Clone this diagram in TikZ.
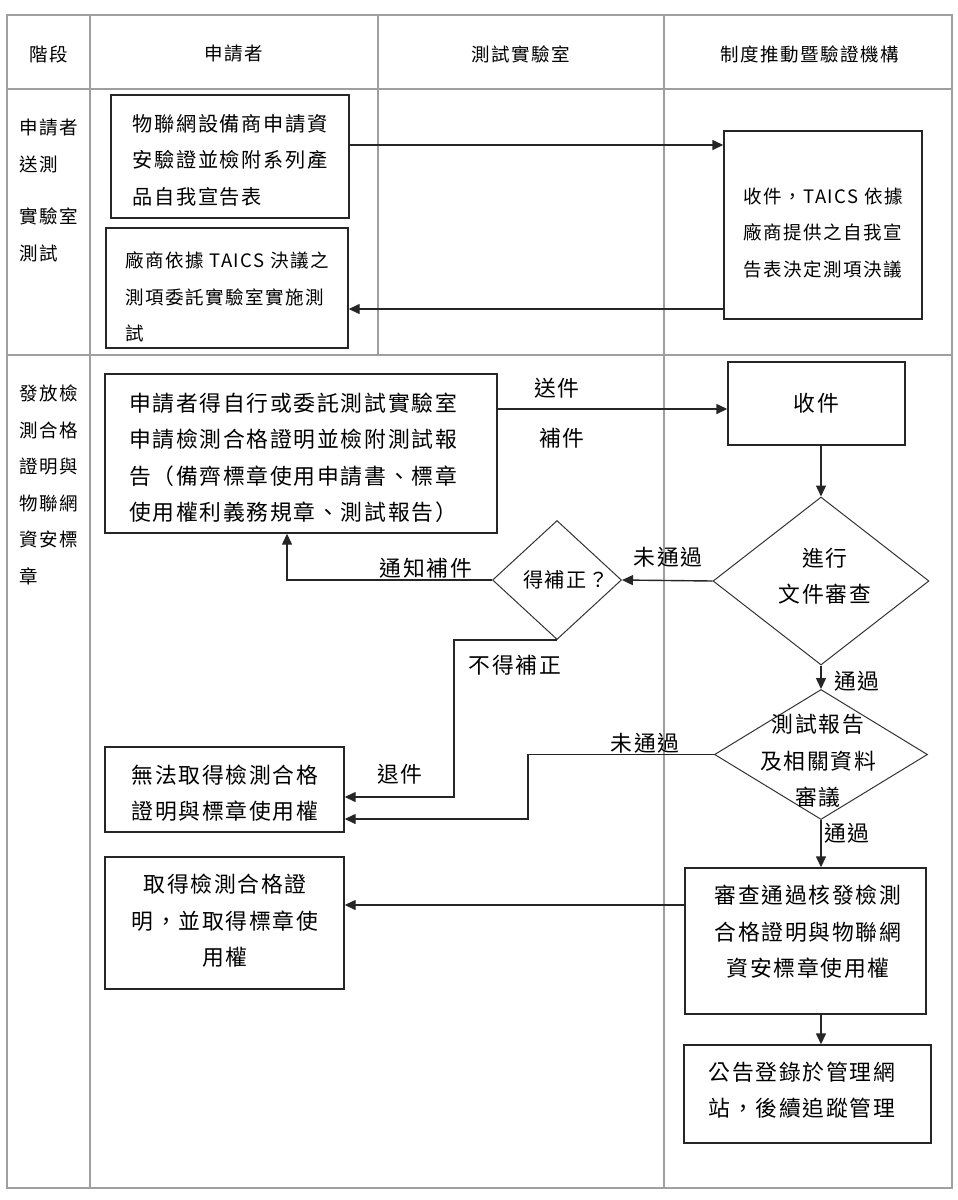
\documentclass[tikz,border=0pt]{standalone}
\usepackage{fontspec}
\newfontfamily\cjk[LetterSpace=8]{Noto Sans CJK TC}
\usetikzlibrary{arrows.meta,shapes.geometric}
\tikzset{
  tbl/.style={draw=gray!75, line width=1.3pt},
  box/.style={draw=black!85, line width=1.4pt, rectangle, inner sep=0pt},
  dia/.style={draw=black!80, line width=1pt, diamond, inner sep=0pt},
  arr/.style={draw=black!85, line width=1.4pt, -{Triangle[length=11pt,width=10pt]}},
  txtA/.style={font=\cjk\fontsize{21.8}{36.5}\selectfont, inner sep=0pt},
  txtB/.style={font=\cjk\fontsize{20.2}{36.5}\selectfont, inner sep=0pt},
  txtC/.style={font=\cjk\fontsize{18.5}{36.5}\selectfont, inner sep=0pt},
}
\begin{document}
\begin{tikzpicture}[x=1pt,y=-1pt]
\useasboundingbox[fill=white] (0,0) rectangle (958,1200);
% table
\draw[tbl] (7,15) rectangle (952,1188);
\draw[tbl] (7,89) -- (952,89);
\draw[tbl] (7,355) -- (952,355);
\draw[tbl] (90,15) -- (90,1188);
\draw[tbl] (378,15) -- (378,355);
\draw[tbl] (664,15) -- (664,1188);
% header
\node[txtC] (h1) at (49,54) {階段};
\node[txtC] (h2) at (234,54) {申請者};
\node[txtC] (h3) at (521,54) {測試實驗室};
\node[txtC] (h4) at (810,54) {制度推動暨驗證機構};
% stage column
\node[txtC, align=left, anchor=west] (s1) at (19,190.5) {申請者\\送測\\[16pt]實驗室\\測試};
\node[txtC, align=left, anchor=west] (s2) at (19,485) {發放檢\\測合格\\證明與\\物聯網\\資安標\\章};
% boxes
\node[box, minimum width=238pt, minimum height=123pt] (b1) at (230,156.5) {};
\node[box, minimum width=242pt, minimum height=120pt] (b2) at (227,288) {};
\node[box, minimum width=198pt, minimum height=188pt] (b3) at (823,225) {};
\node[box, minimum width=392pt, minimum height=159pt] (b4) at (301,453.5) {};
\node[box, minimum width=177pt, minimum height=83pt] (sj) at (816.5,403.5) {};
\node[dia, minimum width=216pt, minimum height=168pt] (d1) at (821,581) {};
\node[dia, minimum width=129pt, minimum height=119pt] (d2) at (557,580) {};
\node[dia, minimum width=213pt, minimum height=130pt] (d3) at (821,754.5) {};
\node[box, minimum width=239pt, minimum height=85pt] (bw) at (224.5,789.5) {};
\node[box, minimum width=239pt, minimum height=132pt] (bq) at (224.5,923) {};
\node[box, minimum width=241pt, minimum height=146pt] (bs) at (805.5,941) {};
\node[box, minimum width=247pt, minimum height=98pt] (bg) at (807.5,1094) {};
% box texts
\node[txtB, align=left] (t1) at (230,160) {物聯網設備商申請資\\安驗證並檢附系列產\\品自我宣告表};
\node[txtC, align=left] (t2) at (227,297) {廠商依據 TAICS 決議之\\測項委託實驗室實施測\\試};
\node[txtC, align=left] (t3) at (823,233) {收件，TAICS 依據\\廠商提供之自我宣\\告表決定測項決議};
\node[txtA, align=left] (t4) at (293,458) {申請者得自行或委託測試實驗室\\申請檢測合格證明並檢附測試報\\告（備齊標章使用申請書、標章\\使用權利義務規章、測試報告）};
\node[txtA] (t5) at (816.5,403) {收件};
\node[txtA, align=center] (t6) at (825,576) {進行\\文件審查};
\node[txtB] (t7) at (566,580) {得補正？};
\node[txtA, align=center] (t8) at (818,761) {測試報告\\及相關資料\\審議};
\node[txtA, align=left] (t9) at (225,793) {無法取得檢測合格\\證明與標章使用權};
\node[txtA, align=center] (t10) at (225,921) {取得檢測合格證\\明，並取得標章使\\用權};
\node[txtA, align=center] (t11) at (808,932) {審查通過核發檢測\\合格證明與物聯網\\資安標章使用權};
\node[txtA, align=left] (t12) at (802,1090) {公告登錄於管理網\\站，後續追蹤管理};
% helper coordinates
\coordinate (y145) at (0,145);
\coordinate (y309) at (0,309);
\coordinate (y409) at (0,409);
\coordinate (x287) at (287,0);
\coordinate (x454) at (454,0);
\coordinate (y797) at (0,797);
\coordinate (x528) at (528,0);
\coordinate (y819) at (0,819);
\coordinate (y905) at (0,905);
% connectors
\draw[arr] (b1.east |- y145) -- (b3.west |- y145);
\draw[arr] (b3.west |- y309) -- (b2.east |- y309);
\draw[arr] (b4.east |- y409) -- (sj.west |- y409);
\draw[arr] (d1.north |- sj.south) -- (d1.north);
\draw[arr] (d1.west) -- (d2.east);
\draw[arr] (d2.west) -| (x287 |- b4.south);
\draw[arr] (d2.south) -- (x454 |- d2.south) |- (bw.east |- y797);
\draw[arr] (d1.south) -- (d3.north);
\draw[arr] (d3.west) -| (x528 |- y819) -- (bw.east |- y819);
\draw[arr] (d3.south) -- (d3.south |- bs.north);
\draw[arr] (bs.west |- y905) -- (bq.east |- y905);
\draw[arr] (d3.south |- bs.south) -- (d3.south |- bg.north);
% connector labels
\node[txtA] (l1) at (557,388) {送件};
\node[txtA] (l2) at (562,438) {補件};
\node[txtA] (l3) at (668,557) {未通過};
\node[txtA] (l4) at (426,568) {通知補件};
\node[txtA] (l5) at (515,665) {不得補正};
\node[txtA] (l6) at (400,774) {退件};
\node[txtA] (l7) at (857,681) {通過};
\node[txtA] (l8) at (645,743) {未通過};
\node[txtA] (l9) at (847,833) {通過};
\end{tikzpicture}
\end{document}
